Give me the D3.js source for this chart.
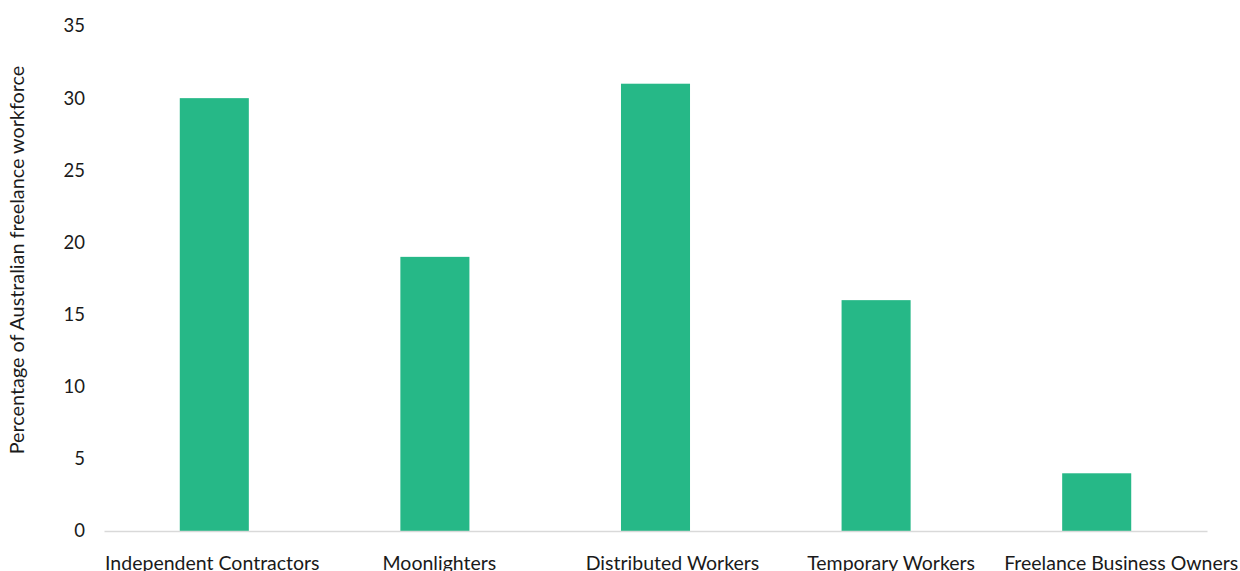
<!DOCTYPE html>
<html>
<head>
<meta charset="utf-8">
<script src="https://cdn.jsdelivr.net/npm/d3@7"></script>
<style>
	body { margin: 0; background: #fff; }
	text { font-family: Lato, "Open Sans", sans-serif; fill: #1a1a1a; }
</style>
</head>
<body>
<div id="chart"></div>
<script>
// Freelance workforce by segment
const categories = ["Independent Contractors", "Moonlighters", "Distributed Workers", "Temporary Workers", "Freelance Business Owners"];
const values = [30, 19, 31, 16, 4];
const yTicks = [0, 5, 10, 15, 20, 25, 30, 35];
const yTitle = "Percentage of Australian freelance workforce";

const BAR_COLOR = "#26b887";
const WIDTH = 1240, HEIGHT = 571;
const margin = {top: 26, right: 33, bottom: 40, left: 104};
const LABEL_NUDGE = [-2, 4.5, 17, 15, 24.5];	// category labels sit a bit off their bars in the original

const svg = d3.select("#chart")
			  .append("svg")
			  .attr("width", WIDTH)
			  .attr("height", HEIGHT);

const x = d3.scaleBand()
			.domain(categories)
			.range([margin.left, WIDTH - margin.right])
			.paddingInner(0.687)
			.paddingOuter(0.3435);

const y = d3.scaleLinear()
			.domain([0, 35])
			.range([HEIGHT - margin.bottom, margin.top]);

// bars
svg.selectAll("rect.bar")
   .data(values)
   .join("rect")
   .attr("class", "bar")
   .attr("x", (d, i) => x(categories[i]))
   .attr("y", d => y(d))
   .attr("width", x.bandwidth())
   .attr("height", d => y(0) - y(d))
   .attr("fill", BAR_COLOR);

// y axis, labels only
const yAxis = svg.append("g")
				 .attr("transform", "translate(" + (margin.left - 19) + ",0)")
				 .call(d3.axisLeft(y).tickValues(yTicks).tickSize(0).tickPadding(0));
yAxis.select(".domain").remove();
yAxis.selectAll("text").attr("font-size", 18.5).attr("font-family", null);

// x axis
const xAxis = svg.append("g")
				 .attr("transform", "translate(0," + y(0) + ")")
				 .call(d3.axisBottom(x).tickSize(0).tickPadding(25));
xAxis.select(".domain").attr("stroke", "#d9d9d9").attr("stroke-width", 1.5);
xAxis.selectAll("text")
	 .attr("font-size", 19.5)
	 .attr("font-family", null)
	 .attr("dx", (d, i) => LABEL_NUDGE[i]);

// y title
svg.append("text")
   .attr("transform", "translate(24," + 260 + ") rotate(-90)")
   .attr("text-anchor", "middle")
   .attr("font-size", 19.8)
   .text(yTitle);
</script>
</body>
</html>
